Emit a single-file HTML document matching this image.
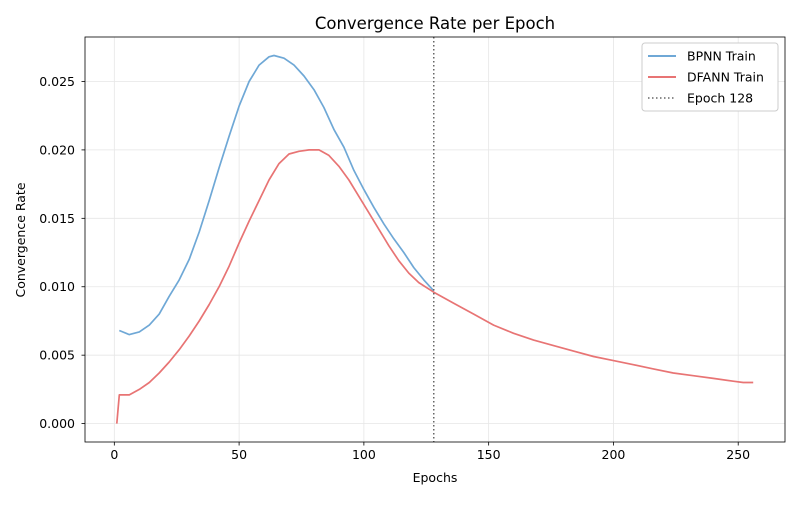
<!DOCTYPE html>
<html><head><meta charset="utf-8"><style>
body{margin:0;background:#fff;}
svg text{font-family:"DejaVu Sans","Liberation Sans",sans-serif;fill:#000;}
</style></head><body>
<svg id="chart" width="800" height="500" xmlns="http://www.w3.org/2000/svg">
<rect width="800" height="500" fill="#fff"/>
<g id="grid"></g>
<g id="series"></g>
<rect x="85" y="37" width="700" height="405" fill="none" stroke="#000" stroke-width="0.8"/>
<g id="axes"></g>
<text x="435" y="29" font-size="16.5" text-anchor="middle">Convergence Rate per Epoch</text>
<text x="435" y="482" font-size="12.5" text-anchor="middle">Epochs</text>
<text transform="translate(25,240) rotate(-90)" font-size="12.5" text-anchor="middle">Convergence Rate</text>
<g>
<rect x="642" y="43" width="136" height="68" fill="#fff" stroke="#ccc" rx="3"/>
<g><line x1="648" y1="56" x2="676" y2="56" stroke="#6fa8d6" stroke-width="2"/><text x="687" y="60.5" font-size="12.5">BPNN Train</text></g>
<g><line x1="648" y1="77" x2="676" y2="77" stroke="#e87474" stroke-width="2"/><text x="687" y="81.5" font-size="12.5">DFANN Train</text></g>
<g><line x1="648" y1="98" x2="676" y2="98" stroke="#666" stroke-width="1.5" stroke-dasharray="1.5,2.5"/><text x="687" y="102.5" font-size="12.5">Epoch 128</text></g>
</g>
</svg>
<script>
const bpnnEpochs=[2,6,10,14,18,22,26,30,34,38,42,46,50,54,58,62,64,68,72,76,80,84,88,92,96,100,104,108,112,116,120,124,128];
const bpnnValues=[0.0068,0.0065,0.0067,0.0072,0.0080,0.0093,0.0105,0.0120,0.0140,0.0163,0.0187,0.0210,0.0232,0.0250,0.0262,0.0268,0.0269,0.0267,0.0262,0.0254,0.0244,0.0231,0.0215,0.0202,0.0185,0.0171,0.0158,0.0146,0.0135,0.0125,0.0114,0.0105,0.0097];
const dfannEpochs=[1,2,6,10,14,18,22,26,30,34,38,42,46,50,54,58,62,66,70,74,78,82,86,90,94,98,102,106,110,114,118,122,128,136,144,152,160,168,176,184,192,200,208,216,224,232,240,248,252,256];
const dfannValues=[0,0.0021,0.0021,0.0025,0.0030,0.0037,0.0045,0.0054,0.0064,0.0075,0.0087,0.0100,0.0115,0.0132,0.0148,0.0163,0.0178,0.0190,0.0197,0.0199,0.0200,0.0200,0.0196,0.0188,0.0178,0.0166,0.0154,0.0142,0.0130,0.0119,0.0110,0.0103,0.0096,0.0088,0.0080,0.0072,0.0066,0.0061,0.0057,0.0053,0.0049,0.0046,0.0043,0.0040,0.0037,0.0035,0.0033,0.0031,0.0030,0.0030];
const xTicks=[0,50,100,150,200,250];
const yTicks=[0,0.005,0.010,0.015,0.020,0.025];
const yTickLabels=["0.000","0.005","0.010","0.015","0.020","0.025"];
const markerEpoch=128;
const X0=85,X1=785,Y0=442,Y1=37,xmin=-11.75,xmax=268.75,ymin=-0.001345,ymax=0.02825;
const sx=v=>X0+(v-xmin)/(xmax-xmin)*(X1-X0);
const sy=v=>Y0-(v-ymin)/(ymax-ymin)*(Y0-Y1);
const NS="http://www.w3.org/2000/svg";
function mk(tag,attrs,parent){const e=document.createElementNS(NS,tag);for(const k in attrs)e.setAttribute(k,attrs[k]);document.getElementById(parent).appendChild(e);return e;}
xTicks.forEach(t=>{const x=sx(t);
 let g=mk('line',{x1:x,x2:x,y1:Y1,y2:Y0,stroke:'#e6e6e6','stroke-width':0.8},'grid');
 
 
 let k=mk('line',{x1:x,x2:x,y1:Y0,y2:Y0+3.5,stroke:'#000','stroke-width':0.8},'axes');
 
 
 let l=mk('text',{x:x,y:Y0+17,'font-size':12.5,'text-anchor':'middle'},'axes');l.textContent=t;
 
 
});
yTicks.forEach((t,i)=>{const y=sy(t);
 let g=mk('line',{x1:X0,x2:X1,y1:y,y2:y,stroke:'#e6e6e6','stroke-width':0.8},'grid');
 
 
 let k=mk('line',{x1:X0-3.5,x2:X0,y1:y,y2:y,stroke:'#000','stroke-width':0.8},'axes');
 
 
 let l=mk('text',{x:X0-10,y:y+4.5,'font-size':12.5,'text-anchor':'end'},'axes');l.textContent=yTickLabels[i];
 
 
});
function path(xs,ys){return xs.map((e,i)=>(i?'L':'M')+sx(e).toFixed(1)+','+sy(ys[i]).toFixed(1)).join('');}
let p1=mk('path',{d:path(bpnnEpochs,bpnnValues),fill:'none',stroke:'#6fa8d6','stroke-width':1.7,'stroke-linejoin':'round'},'series');


let p2=mk('path',{d:path(dfannEpochs,dfannValues),fill:'none',stroke:'#e87474','stroke-width':1.7,'stroke-linejoin':'round'},'series');


let vl=mk('line',{x1:sx(markerEpoch),x2:sx(markerEpoch),y1:Y1,y2:Y0,stroke:'#666','stroke-width':1.5,'stroke-dasharray':'1.5,2.5'},'series');


</script>
</body></html>
